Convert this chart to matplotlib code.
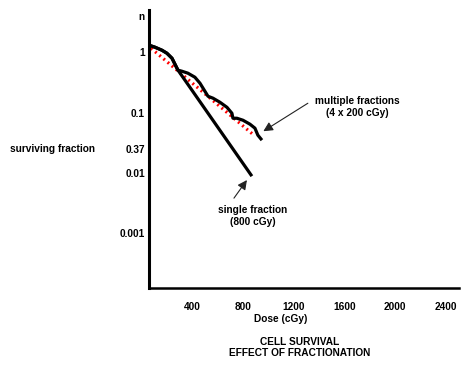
import numpy as np
import matplotlib
matplotlib.use('Agg')
import matplotlib.pyplot as plt

plt.rcParams['font.family'] = ['Liberation Sans', 'DejaVu Sans']
plt.rcParams['font.weight'] = 'bold'

# single fraction (800 cGy)
single_dose = [71, 110, 165, 204, 244, 283, 291, 872]
single_surv = [1.291, 1.211, 1.079, 0.962, 0.794, 0.543, 0.504, 0.0088]

# multiple fractions (4 x 200 cGy)
multi_dose = [71, 110, 165, 204, 244, 283, 291, 322, 369, 424, 464, 503, 527,
              566, 621, 676, 715, 723, 754, 802, 857, 896, 919, 951]
multi_surv = [1.291, 1.211, 1.079, 0.962, 0.794, 0.543, 0.504, 0.484, 0.449,
              0.385, 0.306, 0.225, 0.186, 0.173, 0.148, 0.122, 0.0973, 0.0804,
              0.0804, 0.0745, 0.0640, 0.0550, 0.0421, 0.0348]

# red dotted envelope
env_dose = [79, 888]
env_surv = [1.165, 0.0421]

x_ticks = [400, 800, 1200, 1600, 2000, 2400]
y_ticks = [10**0.6, 1, 0.1, 10**-1.61, 0.01, 0.001]
y_labels = ['n', '1', '0.1', '0.37', '0.01', '0.001']

fs = 7.3

fig = plt.figure(figsize=(4.74, 3.68), dpi=100)
ax = fig.add_axes([0.3143, 0.2174, 0.6540, 0.7554])

ax.plot(env_dose, env_surv, color='red', lw=2.3, ls=(0, (0.6, 1.1)), zorder=2)
ax.plot(single_dose, single_surv, color='black', lw=2.3, zorder=3,
        solid_capstyle='butt')
ax.plot(multi_dose, multi_surv, color='black', lw=2.3, zorder=3,
        solid_capstyle='butt')

ax.set_yscale('log')
ax.set_xlim(63, 2500)
ax.set_ylim(10**-3.91, 10**0.70)
ax.set_xticks(x_ticks)
ax.set_xticklabels([str(t) for t in x_ticks])
ax.set_yticks(y_ticks)
ax.set_yticklabels(y_labels)
ax.yaxis.set_minor_locator(matplotlib.ticker.NullLocator())
ax.tick_params(axis='both', length=0, labelsize=fs)
ax.tick_params(axis='x', pad=10)
ax.tick_params(axis='y', pad=3)

for s in ['top', 'right']:
    ax.spines[s].set_visible(False)
ax.spines['left'].set_linewidth(2.2)
ax.spines['bottom'].set_linewidth(1.8)

# annotations
ax.annotate('', xy=(962, 10**-1.31), xytext=(1312, 10**-0.846),
            arrowprops=dict(arrowstyle='-|>', color='#222222', lw=0.8,
                            mutation_scale=14, shrinkA=0, shrinkB=0))
ax.annotate('', xy=(833, 10**-2.12), xytext=(731, 10**-2.42),
            arrowprops=dict(arrowstyle='-|>', color='#222222', lw=0.8,
                            mutation_scale=14, shrinkA=0, shrinkB=0))

fig.text(357 / 474, 1 - 107.5 / 368, 'multiple fractions\n(4 x 200 cGy)',
         ha='center', va='center', fontsize=fs, linespacing=1.25)
fig.text(253 / 474, 1 - 216 / 368, 'single fraction\n(800 cGy)',
         ha='center', va='center', fontsize=fs, linespacing=1.25)
fig.text(53 / 474, 1 - 149 / 368, 'surviving fraction',
         ha='center', va='center', fontsize=fs)
fig.text(281 / 474, 1 - 319 / 368, 'Dose (cGy)',
         ha='center', va='center', fontsize=fs)
fig.text(300 / 474, 1 - 347.5 / 368, 'CELL SURVIVAL\nEFFECT OF FRACTIONATION',
         ha='center', va='center', fontsize=fs, linespacing=1.15)

fig.savefig('out.png', dpi=100)
